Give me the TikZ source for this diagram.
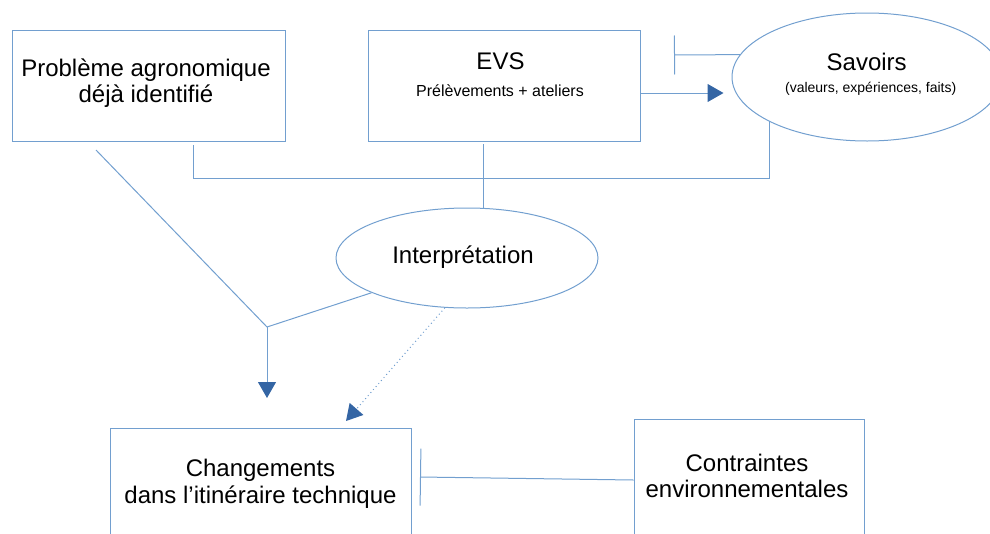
\documentclass[tikz,border=0pt]{standalone}
\usepackage{fontspec}
\setmainfont{Liberation Sans}
\usetikzlibrary{arrows.meta,shapes.geometric}
\definecolor{lineblue}{RGB}{114,159,207}
\definecolor{headblue}{RGB}{52,101,164}
\begin{document}
\begin{tikzpicture}[x=1pt,y=-1pt,line width=1pt,
	box/.style={draw=lineblue,rectangle,inner sep=0pt},
	oval/.style={draw=lineblue,ellipse,inner sep=0pt},
	big/.style={font=\fontsize{24}{26.7}\selectfont,align=center,anchor=base,inner sep=0pt},
	small/.style={font=\fontsize{16}{19}\selectfont,anchor=base,inner sep=0pt},
	tiny/.style={font=\fontsize{14}{17}\selectfont,anchor=base,inner sep=0pt},
	link/.style={draw=lineblue},
	tip/.style={-{Triangle[length=16pt,width=18pt,color=headblue]}},
	barend/.style={-{Bar[width=#1]}}]
\useasboundingbox (0,0) rectangle (990,533);
\clip (0,0) rectangle (990,533);
\node[box,minimum width=273pt,minimum height=111pt] (pb) at (148.5,85.5) {};
\node[big] (pbt) at (146,102.7) {Problème agronomique\\déjà identifié};
\node[box,minimum width=272pt,minimum height=111pt] (evs) at (504,85.5) {};
\node[big] (evst) at (500.5,69.3) {EVS};
\node[small] (evsd) at (500,96) {Prélèvements + ateliers};
\node[oval,minimum width=270pt,minimum height=128pt] (sav) at (867,77) {};
\node[big] (savt) at (866.7,70.5) {Savoirs};
\node[tiny] (savd) at (870.7,92.5) {(valeurs, expériences, faits)};
\node[oval,minimum width=262pt,minimum height=100pt] (int) at (467,258) {};
\node[big] (intt) at (463,263.3) {Interprétation};
\node[box,minimum width=301pt,minimum height=130pt] (chg) at (260.5,493) {};
\node[big] (chgt) at (260.5,503.3) {Changements\\dans l’itinéraire technique};
\node[box,minimum width=230pt,minimum height=140pt] (ctr) at (749,489) {};
\node[big] (ctrt) at (747,497.7) {Contraintes\\environnementales};
\coordinate (savbar) at (674,55);
\coordinate (evsout) at ([yshift=-7.5pt]evs.east);
\coordinate (b1) at (193,145);
\coordinate (b2) at (193,178);
\coordinate (b3) at (769,178);
\coordinate (b4) at (769,121);
\coordinate (e1) at (483,144);
\coordinate (d1) at (96,150);
\coordinate (join) at (267,327);
\coordinate (down) at (267,398);
\coordinate (dot) at (346,421);
\coordinate (ctrout) at ([yshift=9pt]ctr.west);
\coordinate (chgbar) at (420,477);
\draw[link,barend=39pt] (sav.170) -- (savbar);
\draw[link,tip,shorten >=8pt] (evsout) -- (evsout -| sav.west);
\draw[link] (b1) -- (b2) -- (b3) -- (b4);
\draw[link] (e1) -- (e1 |- int.north);
\draw[link] (d1) -- (join) -- (int.200);
\draw[link,tip] (join) -- (down);
\draw[link,tip,dash pattern=on 1pt off 3pt] (int.246) -- (dot);
\draw[link,barend=57pt] (ctrout) -- (chgbar);
\end{tikzpicture}
\end{document}
